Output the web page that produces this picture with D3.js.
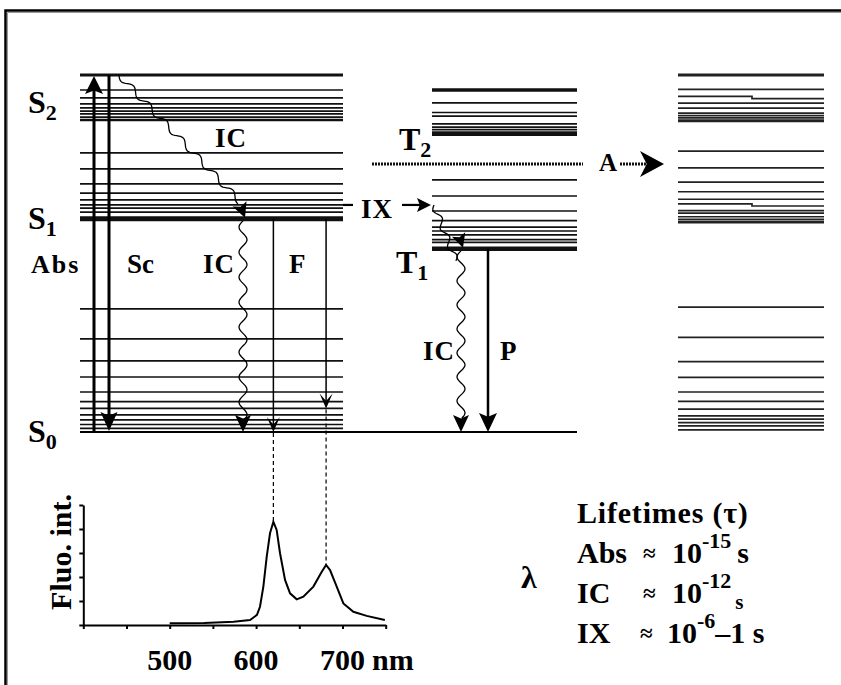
<!DOCTYPE html>
<html>
<head>
<meta charset="utf-8">
<title></title>
<style type="text/css">
*{ margin:0; padding:0; }
html,body{ width:100%; height:100%; background:#fff; }
svg{ display:block; }
</style>
</head>
<body>
<script src="https://cdn.jsdelivr.net/npm/d3@7"></script>
<script>
// energy levels, relative units (S2 top = 100)
var sLevels = [100, 95.8, 93.6, 91.9, 90.8, 89.9, 89.1, 88.2, 87.4,
               78.2, 73.7, 69.5, 66.9, 65.0, 63.6, 62.7, 61.6, 59.7,
               34.5, 26.1, 19.9, 15.4, 11.2, 8.5, 6.6, 4.8, 3.4, 2.1, 1.0]
var tLevels = [95.8, 92.2, 89.5, 88.5, 86.3, 85.4, 84.7, 84.0, 83.3,
               70.6, 66.1, 61.9, 59.2, 57.4, 56.3, 55.2, 53.9, 53.1, 51.3]
var rLevels = [100, 96.0, 92.1, 90.7, 89.3, 88.6, 88.0, 87.2,
               78.7, 74.0, 70.0, 67.3, 65.2, 62.0, 61.3, 60.3, 59.6, 58.8,
               35.0, 26.5, 19.7, 15.3, 11.2, 8.6, 6.4, 4.5, 3.6, 2.6, 1.7, 0.6]
var rStepLevels = [[94.0, 93.4], [63.9, 63.3]]
var groundLevel = 0
var t2Level = 75.1
var s1Level = 59.7
var t1Level = 51.3
var ixLevel = 63.6
var f2Level = 6.6

// fluorescence spectrum
var specNm  = [500, 540, 574, 593, 601, 604.5, 608.4, 612.3, 616.1, 620, 623.8, 627.7, 633.5, 639.3, 647, 654.7, 666.3, 676, 681, 685.6, 693.3, 701, 712.6, 728, 749]
var specInt = [0.07, 0.08, 0.14, 0.21, 0.42, 0.76, 1.6, 2.85, 3.82, 4.3, 3.96, 2.99, 1.88, 1.32, 1.07, 1.18, 1.6, 2.22, 2.5, 2.29, 1.6, 0.9, 0.55, 0.38, 0.21]
var peakNm = [620, 681]
var xTickNm = [400, 450, 500, 550, 600, 650, 700, 750]
var xLabelNm = [500, 600, 700]
var yTickVals = [0, 1, 2, 3, 4, 5]

// lifetimes table
var ltNames = ["Abs", "IC", "IX"]
var ltExp = ["-15", "-12", "-6"]

var width = 841, height = 685

var svg = d3.select("body").append("svg")
	.attr("width", width).attr("height", height)
	.attr("font-family", "'Liberation Serif', 'DejaVu Serif', serif")
	.attr("font-weight", "bold")

// frame
svg.append("path").attr("d", "M7.5,685 V12.5 H841").attr("fill", "none").attr("stroke", "#999").attr("stroke-width", 1)
svg.append("path").attr("d", "M5.5,685 V10.5 H841").attr("fill", "none").attr("stroke", "#000").attr("stroke-width", 2.5)

var y = d3.scaleLinear().domain([0, 100]).range([432, 75])

var cols = { S: [80, 343], T: [432, 577], R: [678, 824] }

var sThick = new Map([[100, 3], [87.4, 2.5], [59.7, 5]])
var tThick = new Map([[95.8, 3.5], [83.3, 3], [51.3, 4.5]])
var rThick = new Map([[100, 3], [87.2, 3], [58.8, 3]])

function levels(data, col, thick, color) {
	svg.append("g").selectAll("line")
		.data(data)
		.join("line")
		.attr("x1", col[0]).attr("x2", col[1])
		.attr("y1", d => y(d)).attr("y2", d => y(d))
		.attr("stroke", color)
		.attr("stroke-width", d => thick.get(d) || 1.7)
}
levels(sLevels, cols.S, sThick, "#111")
levels(tLevels, cols.T, tThick, "#111")
levels(rLevels, cols.R, rThick, "#222")

// stepped lines in right column
svg.append("g").selectAll("path")
	.data(rStepLevels)
	.join("path")
	.attr("d", d => `M${cols.R[0]},${y(d[0])} H752 V${y(d[1])} H${cols.R[1]}`)
	.attr("fill", "none").attr("stroke", "#222").attr("stroke-width", 1.7)

// ground state line across S and T
svg.append("line")
	.attr("x1", cols.S[0]).attr("x2", cols.T[1])
	.attr("y1", y(groundLevel)).attr("y2", y(groundLevel))
	.attr("stroke", "#000").attr("stroke-width", 2)

// arrow heads
function head(tx, ty, ang, w, len, notch) {
	var dx = Math.cos(ang), dy = Math.sin(ang)
	var bx = tx - dx * len, by = ty - dy * len
	var px = -dy * w / 2, py = dx * w / 2
	var nx = tx - dx * len * (notch || 0.6), ny = ty - dy * len * (notch || 0.6)
	return `M${tx},${ty} L${bx + px},${by + py} L${nx},${ny} L${bx - px},${by - py} Z`
}
function wavy(x0, y0, x1, y1, amp, wl) {
	var dx = x1 - x0, dy = y1 - y0, L = Math.hypot(dx, dy)
	var nx = -dy / L, ny = dx / L
	var n = Math.ceil(L / 1.5)
	var pts = d3.range(n + 1).map(function(i) {
		var t = i / n, o = amp * Math.sin(2 * Math.PI * t * L / wl)
		return [x0 + dx * t + nx * o, y0 + dy * t + ny * o]
	})
	return d3.line()(pts)
}
var DOWN = Math.PI / 2, UP = -Math.PI / 2, RIGHT = 0

var marks = svg.append("g")

// Abs (up) and Sc (down)
marks.append("line").attr("x1", 94).attr("x2", 94).attr("y1", y(0)).attr("y2", y(100) + 14).attr("stroke", "#000").attr("stroke-width", 3)
marks.append("path").attr("d", head(94, y(100) + 1, UP, 18, 18, 0.8))
marks.append("line").attr("x1", 109).attr("x2", 109).attr("y1", y(100)).attr("y2", y(0) - 14).attr("stroke", "#000").attr("stroke-width", 3)
marks.append("path").attr("d", head(109, y(0) - 1, DOWN, 17, 19, 0.8))

// IC S2 -> S1
marks.append("path").attr("d", wavy(119, y(100), 240, y(64.5), 3, 24)).attr("fill", "none").attr("stroke", "#000").attr("stroke-width", 1.3)
marks.append("path").attr("d", head(245, y(s1Level) - 1, 1.2, 15, 15, 0.8))
// IC S1 -> S0
marks.append("path").attr("d", wavy(243, y(s1Level) + 2, 243, y(0) - 14, 4, 25)).attr("fill", "none").attr("stroke", "#000").attr("stroke-width", 1.3)
marks.append("path").attr("d", head(243, y(0), DOWN, 16, 17, 0.8))

// fluorescence arrows, placed at spectrum peaks
var sx = d3.scaleLinear().domain([400, 750]).range([83.3, 385.7])
var fEnds = [groundLevel, f2Level]
peakNm.forEach(function(nm, i) {
	var x = sx(nm)
	marks.append("line").attr("x1", x).attr("x2", x).attr("y1", y(s1Level)).attr("y2", y(fEnds[i]) - 4).attr("stroke", "#000").attr("stroke-width", 1.5)
	marks.append("path").attr("d", head(x, y(fEnds[i]), DOWN, 13, 15, 0.5))
})

// IX crossing
marks.append("line").attr("x1", cols.S[1]).attr("x2", 353).attr("y1", y(ixLevel)).attr("y2", y(ixLevel)).attr("stroke", "#000").attr("stroke-width", 2.2)
marks.append("line").attr("x1", 402).attr("x2", 422).attr("y1", y(ixLevel)).attr("y2", y(ixLevel)).attr("stroke", "#000").attr("stroke-width", 2.2)
marks.append("path").attr("d", head(431, y(ixLevel), RIGHT, 14, 14, 0.8))

// IC inside T, T1 -> S0 and P
marks.append("path").attr("d", wavy(434, y(ixLevel), 456, y(t1Level) + 12, 3, 20)).attr("fill", "none").attr("stroke", "#000").attr("stroke-width", 1.3)
marks.append("path").attr("d", head(463, y(t1Level) - 1, 1.25, 14, 14, 0.8))
marks.append("path").attr("d", wavy(461, y(t1Level) + 2, 461, y(0) - 14, 4, 24)).attr("fill", "none").attr("stroke", "#000").attr("stroke-width", 1.3)
marks.append("path").attr("d", head(461, y(0), DOWN, 16, 17, 0.8))
marks.append("line").attr("x1", 488).attr("x2", 488).attr("y1", y(t1Level)).attr("y2", y(0) - 12).attr("stroke", "#000").attr("stroke-width", 2.5)
marks.append("path").attr("d", head(488, y(0), DOWN, 18, 19, 0.8))

// dotted T2 level and A
marks.append("line").attr("x1", 372).attr("x2", 583).attr("y1", y(t2Level)).attr("y2", y(t2Level))
	.attr("stroke", "#111").attr("stroke-width", 3).attr("stroke-dasharray", "2,1")
marks.append("line").attr("x1", 620).attr("x2", 646).attr("y1", y(t2Level)).attr("y2", y(t2Level))
	.attr("stroke", "#111").attr("stroke-width", 3).attr("stroke-dasharray", "2,1")
marks.append("path").attr("d", head(664, y(t2Level), RIGHT, 26, 24, 0.72))

// dashed drop lines to the spectrum
var sy = d3.scaleLinear().domain([0, 5]).range([625, 505])
var peakInt = peakNm.map(nm => specInt[specNm.indexOf(nm)])
peakNm.forEach(function(nm, i) {
	marks.append("line").attr("x1", sx(nm)).attr("x2", sx(nm))
		.attr("y1", y(fEnds[i]) + 1).attr("y2", sy(peakInt[i]))
		.attr("stroke", "#000").attr("stroke-width", 1.2).attr("stroke-dasharray", "4,3")
})

// diagram labels
function label(txt, x, yy, size, sub, subSize) {
	var t = svg.append("text").attr("x", x).attr("y", yy).style("font-size", size + "px").text(txt)
	if (sub !== undefined) t.append("tspan").attr("dy", 7).style("font-size", subSize + "px").text(sub)
	return t
}
label("S", 28, 113, 32, "2", 22)
label("S", 28, 229, 32, "1", 22)
label("S", 28, 442, 32, "0", 22)
label("T", 399, 150, 32, "2", 22)
label("T", 396, 273, 32, "1", 22)
label("Abs", 31, 273, 26).style("letter-spacing", "2px")
label("Sc", 127, 273, 27)
label("IC", 203, 273, 27).style("letter-spacing", "1px")
label("F", 289, 273, 27)
label("IC", 215, 147, 27).style("letter-spacing", "1px")
label("IX", 361, 218, 27).style("letter-spacing", "1px")
label("A", 599, 171, 25)
label("IC", 423, 360, 27).style("letter-spacing", "1px")
label("P", 500, 360, 27)

// spectrum
var spec = svg.append("g")
spec.append("g")
	.attr("transform", "translate(0,625)")
	.call(d3.axisBottom(sx).tickValues(xTickNm).tickSize(4).tickSizeOuter(0).tickFormat(""))
	.call(g => g.selectAll("path,line").attr("stroke", "#000").attr("stroke-width", 2))
spec.append("g")
	.attr("transform", "translate(83.3,0)")
	.call(d3.axisLeft(sy).tickValues(yTickVals).tickSize(4).tickSizeOuter(0).tickFormat(""))
	.call(g => g.selectAll("path,line").attr("stroke", "#000").attr("stroke-width", 2))

spec.append("path")
	.datum(specNm.map((d, i) => [d, specInt[i]]))
	.attr("d", d3.line().x(d => sx(d[0])).y(d => sy(d[1])))
	.attr("fill", "none").attr("stroke", "#000").attr("stroke-width", 2)

spec.selectAll("text.xl")
	.data(xLabelNm)
	.join("text")
	.attr("class", "xl")
	.attr("x", d => sx(d)).attr("y", 670)
	.attr("text-anchor", "middle")
	.style("font-size", "30px")
	.text(d => d)
spec.append("text").attr("x", 372).attr("y", 670).style("font-size", "30px").text("nm")
spec.append("text")
	.attr("transform", "translate(71,552) rotate(-90)")
	.attr("text-anchor", "middle")
	.style("font-size", "30px")
	.text("Fluo. int.")
spec.append("text").attr("x", 521).attr("y", 588).style("font-size", "32px").text("λ")

// lifetimes
var lt = svg.append("g").style("font-size", "30px")
lt.append("text").attr("x", 577).attr("y", 523).style("letter-spacing", "0.8px").text("Lifetimes (τ)")
var rowY = [563, 603, 643]
var approxX = [643, 643, 640]
var tenX = [672, 672, 667]
ltNames.forEach(function(name, i) {
	lt.append("text").attr("x", 577).attr("y", rowY[i]).text(name)
	lt.append("text").attr("x", approxX[i]).attr("y", rowY[i] - 2).style("font-size", "23px").text("≈")
	var t = lt.append("text").attr("x", tenX[i]).attr("y", rowY[i])
	t.append("tspan").text("10")
	t.append("tspan").attr("dy", -15).style("font-size", "22px").text(ltExp[i])
	if (i === 0) t.append("tspan").attr("dy", 15).attr("dx", 6).text("s")
	if (i === 1) t.append("tspan").attr("dy", 21).attr("dx", 4).style("font-size", "21px").text("s")
	if (i === 2) t.append("tspan").attr("dy", 15).text("–1 s")
})
</script>
</body>
</html>
